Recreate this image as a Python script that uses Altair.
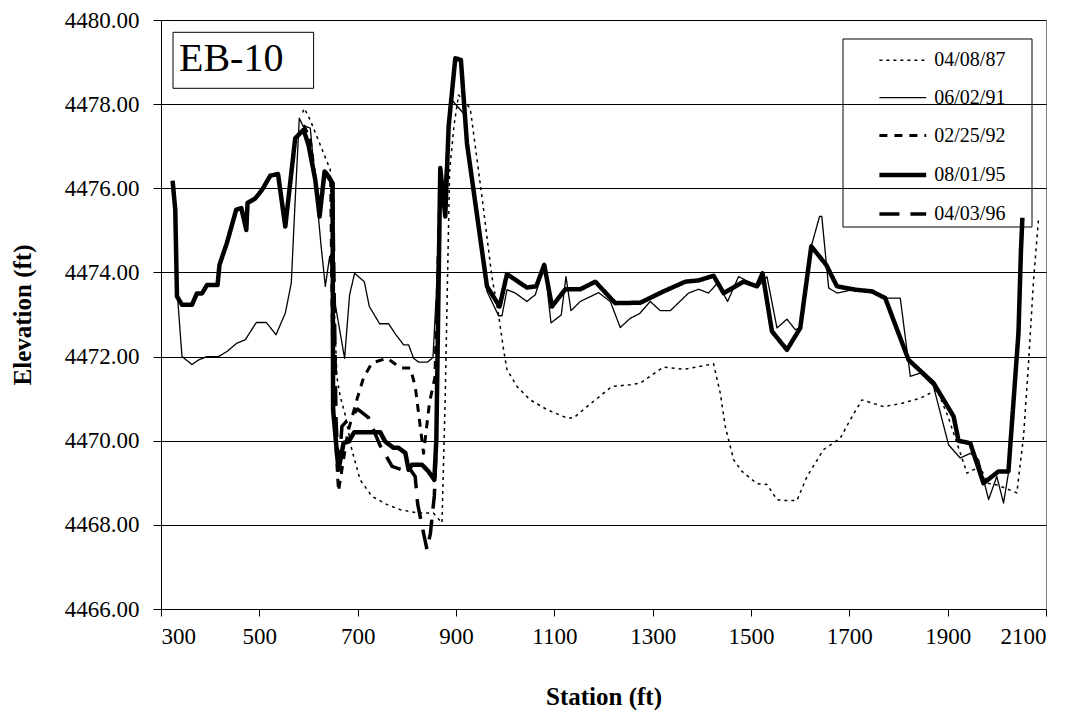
import altair as alt
import pandas as pd

# Cross-section EB-10: surveyed ground elevation along the station line
surveys = ["04/08/87", "06/02/91", "02/25/92", "08/01/95", "04/03/96"]

sta_87 = [588, 591.4, 603.6, 644.3, 650, 658, 664.6, 675, 688, 705, 729, 760, 787, 824, 854,
          871.5, 878, 887, 896, 905.3, 929, 952.8, 973, 986.6, 996.8, 1003.7, 1024, 1051, 1085,
          1125.7, 1139, 1166.4, 1217.2, 1254.4, 1274.8, 1322.2, 1362.9, 1390, 1423.8, 1437.5,
          1447.6, 1464.6, 1481.6, 1512.1, 1532.5, 1552.8, 1566, 1593.5, 1613.9, 1647.7, 1681.6,
          1702, 1725.7, 1769.6, 1807, 1844.4, 1878.3, 1900, 1925.6, 1939.2, 1966.3, 1979.9, 2000,
          2040.7, 2054.3, 2064.5, 2074.7, 2085]
elev_87 = [4477.8, 4477.9, 4477.62, 4476.44, 4473.8, 4471.5, 4471.05, 4470.6, 4469.79, 4469.07,
           4468.68, 4468.48, 4468.36, 4468.28, 4468.28, 4468.05, 4471.0, 4476.4, 4477.5, 4478.22,
           4477.9, 4475.8, 4473.9, 4472.99, 4472.16, 4471.69, 4471.29, 4470.97, 4470.74, 4470.54,
           4470.54, 4470.81, 4471.29, 4471.33, 4471.37, 4471.75, 4471.7, 4471.75, 4471.83,
           4471.13, 4470.34, 4469.55, 4469.27, 4468.98, 4468.96, 4468.6, 4468.58, 4468.58,
           4469.15, 4469.79, 4470.06, 4470.5, 4470.97, 4470.81, 4470.89, 4471.01, 4471.21,
           4470.6, 4469.71, 4469.23, 4469.39, 4468.99, 4468.95, 4468.76, 4470.1, 4471.85,
           4473.82, 4475.3]

sta_91 = [323.6, 329, 332.5, 342.7, 363, 376.5, 393.5, 417, 434, 454.5, 471.4, 493.8, 514.2,
          533.9, 552.8, 565, 572, 581.3, 588, 603.6, 615, 625, 634.2, 643, 655, 673.4, 683.6,
          693.8, 713.5, 723.7, 744.7, 763, 776.5, 793.4, 803.6, 813.7, 823.9, 842.2, 853.2, 860,
          868, 876, 888.3, 915.4, 940, 963, 986.6, 993.5, 1003.7, 1020.6, 1044.3, 1061.3, 1080.2,
          1093.2, 1114.1, 1123.7, 1133.9, 1152.8, 1190, 1213.8, 1234.1, 1254.4, 1273.4, 1295.1,
          1315.4, 1335.8, 1373.1, 1393.4, 1413.7, 1432, 1452.4, 1474.7, 1495, 1515.4, 1532.5,
          1552.8, 1573.1, 1590, 1600, 1622.6, 1639.4, 1644, 1658, 1675, 1712, 1746, 1773, 1803.6,
          1824, 1844.4, 1871, 1901.9, 1925.6, 1946, 1962.9, 1983.2, 2000, 2013.6, 2023.6, 2044,
          2048]
elev_91 = [4476.18, 4475.49, 4473.6, 4472.0, 4471.81, 4471.92, 4472.0, 4472.0, 4472.12, 4472.32,
           4472.4, 4472.81, 4472.81, 4472.52, 4473.03, 4473.75, 4475.5, 4477.67, 4477.5, 4477.43,
           4476.0, 4474.7, 4473.67, 4474.38, 4473.2, 4471.96, 4473.47, 4473.98, 4473.78, 4473.19,
           4472.78, 4472.78, 4472.54, 4472.28, 4472.28, 4471.96, 4471.87, 4471.87, 4471.98,
           4473.5, 4476.3, 4476.0, 4478.14, 4477.78, 4475.5, 4473.55, 4472.97, 4472.97, 4473.59,
           4473.51, 4473.31, 4473.47, 4474.18, 4472.8, 4472.99, 4473.9, 4473.09, 4473.31,
           4473.52, 4473.31, 4472.69, 4472.91, 4473.02, 4473.31, 4473.09, 4473.09, 4473.51,
           4473.6, 4473.51, 4473.75, 4473.31, 4473.9, 4473.78, 4473.67, 4473.9, 4472.68, 4472.89,
           4472.64, 4472.68, 4474.62, 4475.33, 4475.33, 4473.63, 4473.51, 4473.6, 4473.55,
           4473.39, 4473.39, 4471.53, 4471.61, 4471.3, 4469.9, 4469.59, 4469.7, 4469.55, 4468.6,
           4469.15, 4468.52, 4469.23, 4472.56, 4474.6]

sta_92 = [590, 603, 613, 623, 633, 645, 650, 661, 680, 699, 712, 729, 760, 787, 807, 817, 834,
          846, 857, 862, 868]
elev_92 = [4477.5, 4477.2, 4476.3, 4475.5, 4476.4, 4476.3, 4471.0, 4468.8, 4470.2, 4471.0,
           4471.5, 4471.85, 4471.96, 4471.73, 4471.73, 4471.3, 4469.7, 4470.9, 4471.5, 4473.5,
           4476.4]

sta_95 = [323.6, 329, 332.5, 342.7, 363, 373, 383.4, 393.5, 415, 419, 434, 453, 463.3, 473.5,
          476, 491.8, 505.4, 522.3, 538, 552.8, 573, 590, 600, 613.8, 622.6, 632.7, 640.9, 649,
          650, 661, 671.4, 681.5, 693, 746, 756, 773, 783, 797, 803.6, 810.5, 830.8, 844, 855.9,
          860, 868, 878.2, 885, 898.6, 910, 922.3, 963, 988.7, 1003.7, 1044.3, 1063.3, 1079.5,
          1095.2, 1122.3, 1152.8, 1183.3, 1224, 1274.8, 1322.2, 1366.4, 1393.4, 1423.9, 1444.3,
          1485, 1512.1, 1523.5, 1542.6, 1573.1, 1600.2, 1622.6, 1653, 1674.8, 1712, 1746, 1773,
          1820.5, 1871.3, 1912, 1922.2, 1946, 1972.8, 2003.3, 2023.6, 2044, 2049, 2052]
elev_95 = [4476.18, 4475.49, 4473.43, 4473.23, 4473.23, 4473.5, 4473.5, 4473.7, 4473.7, 4474.18,
           4474.7, 4475.49, 4475.53, 4475.01, 4475.65, 4475.76, 4475.96, 4476.3, 4476.34,
           4475.09, 4477.19, 4477.39, 4477.03, 4476.2, 4475.33, 4476.4, 4476.28, 4476.12,
           4470.74, 4469.31, 4469.95, 4469.98, 4470.2, 4470.2, 4469.98, 4469.83, 4469.83,
           4469.71, 4469.31, 4469.43, 4469.43, 4469.27, 4469.07, 4470.02, 4476.48, 4475.33,
           4477.47, 4479.09, 4479.05, 4477.07, 4473.67, 4473.19, 4473.96, 4473.64, 4473.67,
           4474.18, 4473.19, 4473.6, 4473.6, 4473.78, 4473.27, 4473.28, 4473.55, 4473.78,
           4473.81, 4473.92, 4473.51, 4473.78, 4473.67, 4473.98, 4472.6, 4472.16, 4472.68,
           4474.62, 4474.18, 4473.67, 4473.59, 4473.55, 4473.39, 4471.92, 4471.37, 4470.58,
           4470.0, 4469.94, 4468.99, 4469.27, 4469.27, 4472.56, 4474.5, 4475.3]

sta_96 = [632, 649, 656, 661, 668, 700, 722, 745, 770, 790, 805, 817, 822, 834, 841, 848, 856, 860]
elev_96 = [4476.4, 4476.1, 4470.5, 4469.2, 4470.34, 4470.75, 4470.55, 4469.9, 4469.39, 4469.31,
           4469.35, 4469.15, 4468.5, 4467.8, 4467.41, 4467.8, 4468.7, 4470.0]

x_ticks = [300, 500, 700, 900, 1100, 1300, 1500, 1700, 1900, 2100]
y_ticks = [4466, 4468, 4470, 4472, 4474, 4476, 4478, 4480]

line_dash = [[3, 4], [1, 0], [8, 7], [1, 0], [20, 11]]
line_width = [1.5, 1.3, 3, 4.5, 3.5]

rows = []
for name, sta, elev in zip(surveys,
                           [sta_87, sta_91, sta_92, sta_95, sta_96],
                           [elev_87, elev_91, elev_92, elev_95, elev_96]):
    for i, (s, e) in enumerate(zip(sta, elev)):
        rows.append({"survey": name, "station": s, "elevation": e, "seq": i})
df = pd.DataFrame(rows)

serif = "Liberation Serif"

lines = alt.Chart(df).mark_line(color="black", strokeJoin="round").encode(
    x=alt.X("station:Q",
            scale=alt.Scale(domain=[300, 2100], nice=False, zero=False),
            axis=alt.Axis(values=x_ticks, format="d", title="Station (ft)", grid=False,
                          tickSize=7, labelPadding=9, titlePadding=36)),
    y=alt.Y("elevation:Q",
            scale=alt.Scale(domain=[4466, 4480], nice=False, zero=False),
            axis=alt.Axis(values=y_ticks, format=".2f", title="Elevation (ft)", grid=True,
                          gridColor="black", gridWidth=1, tickSize=8, labelPadding=14,
                          titleX=-139, titleBaseline="middle")),
    strokeDash=alt.StrokeDash("survey:N",
                              scale=alt.Scale(type="ordinal", domain=surveys, range=line_dash),
                              legend=alt.Legend(title=None)),
    strokeWidth=alt.StrokeWidth("survey:N",
                                scale=alt.Scale(type="ordinal", domain=surveys, range=line_width),
                                legend=alt.Legend(title=None)),
    order="seq:Q",
    detail="survey:N",
)

# Legend frame
legend_box = alt.Chart(pd.DataFrame({"k": [0]})).mark_rect(
    fillOpacity=0, stroke="black", strokeWidth=1
).encode(x=alt.value(682), x2=alt.value(871), y=alt.value(19), y2=alt.value(207))

# Section label
label_box = alt.Chart(pd.DataFrame({"k": [0]})).mark_rect(
    fill="white", stroke="black", strokeWidth=1
).encode(x=alt.value(12), x2=alt.value(152.6), y=alt.value(12.3), y2=alt.value(68.3))

label_text = alt.Chart(pd.DataFrame({"t": ["EB-10"]})).mark_text(
    font=serif, fontSize=40, align="left", baseline="middle", color="black"
).encode(x=alt.value(18), y=alt.value(39), text="t:N")

chart = alt.layer(lines, label_box, label_text, legend_box).properties(
    width=885, height=589,
    autosize=alt.AutoSizeParams(type="none"),
    padding={"left": 161, "top": 20, "right": 41, "bottom": 106},
    background="white",
).configure_view(
    stroke="#808080", strokeWidth=1
).configure_axis(
    labelFont=serif, labelFontSize=23, labelColor="black",
    titleFont=serif, titleFontSize=25, titleFontWeight="bold", titleColor="black",
    domainColor="black", tickColor="black", domainWidth=1,
).configure_legend(
    orient="none", legendX=682, legendY=19,
    symbolType="M-1.3,0L1.3,0", symbolSize=1296, symbolStrokeColor="black",
    labelFont=serif, labelFontSize=20, labelColor="black",
    padding=2.3, rowPadding=8.4, symbolOffset=37, labelOffset=11,
)

chart.save("out.html", embed_options={"renderer": "svg", "actions": False})
